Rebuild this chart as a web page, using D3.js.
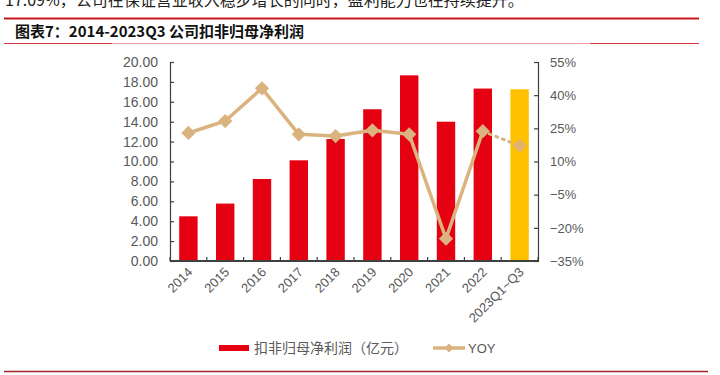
<!DOCTYPE html>
<html>
<head>
<meta charset="utf-8">
<script src="https://cdn.jsdelivr.net/npm/d3@7"></script>
<style>
  body { margin: 0; background: #fff; }
  svg { display: block; font-family: "Liberation Sans", Arial, sans-serif; }
  .cjk { font-family: "Noto Sans CJK SC", sans-serif; }
</style>
</head>
<body>
<div id="chart"></div>
<script>
// data
const categories = ["2014", "2015", "2016", "2017", "2018", "2019", "2020", "2021", "2022", "2023Q1~Q3"];
const profit = [4.49, 5.77, 8.24, 10.12, 12.26, 15.25, 18.66, 14.0, 17.33, 17.26]; // 亿元
const yoy = [22.9, 28.3, 43.1, 22.3, 21.5, 24.1, 22.3, -24.9, 23.7, 17.09]; // %
const leftTicks = [0, 2, 4, 6, 8, 10, 12, 14, 16, 18, 20];
const rightTicks = [-35, -20, -5, 10, 25, 40, 55];

const width = 720, height = 375;
const margin = { left: 170, right: 182, top: 62, bottom: 114 };
const innerW = width - margin.left - margin.right;
const innerH = height - margin.top - margin.bottom;

const barRed = "#e50012", barGold = "#ffc000", lineTan = "#dbb37e", textGray = "#595959";

const svg = d3.select("#chart").append("svg")
  .attr("width", width)
  .attr("height", height);

// header text and rules
svg.append("text").attr("class", "cjk")
  .attr("x", 5).attr("y", 6)
  .attr("font-size", 16).attr("fill", "#222")
  .text("17.09%，公司在保证营业收入稳步增长的同时，盈利能力也在持续提升。");

svg.append("line").attr("x1", 4).attr("x2", 699).attr("y1", 18.5).attr("y2", 18.5)
  .attr("stroke", "#c8161d").attr("stroke-width", 2);

svg.append("text").attr("class", "cjk")
  .attr("x", 15).attr("y", 37)
  .attr("font-size", 15).attr("font-weight", "bold").attr("fill", "#111")
  .text("图表7：2014-2023Q3 公司扣非归母净利润");

svg.append("line").attr("x1", 4).attr("x2", 699).attr("y1", 43.5).attr("y2", 43.5)
  .attr("stroke", "#eba3a8").attr("stroke-width", 1);
svg.append("line").attr("x1", 4).attr("x2", 112).attr("y1", 43.5).attr("y2", 43.5)
  .attr("stroke", "#d9363f").attr("stroke-width", 1);
svg.append("line").attr("x1", 590).attr("x2", 699).attr("y1", 43.5).attr("y2", 43.5)
  .attr("stroke", "#d9363f").attr("stroke-width", 1);

svg.append("line").attr("x1", 4).attr("x2", 708).attr("y1", 371.5).attr("y2", 371.5)
  .attr("stroke", "#a8222a").attr("stroke-width", 1.5);

const g = svg.append("g")
  .attr("transform", `translate(${margin.left}, ${margin.top})`);

// scales
const x = d3.scaleBand().domain(categories).range([0, innerW]).paddingInner(0.5).paddingOuter(0.25);
const yLeft = d3.scaleLinear().domain([0, 20]).range([innerH, 0]);
const yRight = d3.scaleLinear().domain([-35, 55]).range([innerH, 0]);

// bars
g.selectAll(".bar")
  .data(categories.map((c, i) => ({ c, v: profit[i], i })))
  .join("rect")
    .attr("class", "bar")
    .attr("x", d => x(d.c))
    .attr("y", d => yLeft(d.v))
    .attr("width", x.bandwidth())
    .attr("height", d => innerH - yLeft(d.v))
    .attr("fill", d => d.i === categories.length - 1 ? barGold : barRed);

// left axis
const leftAxis = g.append("g")
  .call(d3.axisLeft(yLeft).tickValues(leftTicks).tickSize(-4).tickPadding(12).tickFormat(d3.format(".2f")));
leftAxis.selectAll("text").attr("font-size", 14).attr("fill", textGray);

// right axis
const rightAxis = g.append("g")
  .attr("transform", `translate(${innerW}, 0)`)
  .call(d3.axisRight(yRight).tickValues(rightTicks).tickSize(-4).tickPadding(12).tickFormat(d => d3.format("d")(d) + "%"));
rightAxis.selectAll("text").attr("font-size", 13).attr("fill", textGray);

[leftAxis, rightAxis].forEach(a => {
  a.select(".domain").attr("stroke", "#404040").attr("stroke-width", 1.2);
  a.selectAll(".tick line").attr("stroke", "#404040").attr("stroke-width", 1.2);
});

// bottom axis with boundary ticks
const xb = g.append("g").attr("transform", `translate(0, ${innerH})`);
xb.append("line").attr("x1", 0).attr("x2", innerW).attr("y1", 0).attr("y2", 0)
  .attr("stroke", "#404040").attr("stroke-width", 2);
const step = x.step();
xb.selectAll(".bt")
  .data(d3.range(categories.length + 1))
  .join("line")
    .attr("class", "bt")
    .attr("x1", i => x(categories[0]) - x.bandwidth() / 2 + i * step)
    .attr("x2", i => x(categories[0]) - x.bandwidth() / 2 + i * step)
    .attr("y1", 0).attr("y2", -4)
    .attr("stroke", "#404040").attr("stroke-width", 1.2);
xb.selectAll(".xl")
  .data(categories)
  .join("text")
    .attr("class", "xl")
    .attr("transform", d => `translate(${x(d) + x.bandwidth() / 2 + 5}, 12) rotate(-45)`)
    .attr("text-anchor", "end")
    .attr("font-size", 13)
    .attr("fill", textGray)
    .text(d => d);

// YOY line
const pts = categories.map((c, i) => [x(c) + x.bandwidth() / 2, yRight(yoy[i])]);
const line = d3.line();
g.append("path")
  .attr("d", line(pts.slice(0, 9)))
  .attr("fill", "none").attr("stroke", lineTan).attr("stroke-width", 3.5)
  .attr("stroke-linejoin", "round");
g.append("path")
  .attr("d", line(pts.slice(8)))
  .attr("fill", "none").attr("stroke", lineTan).attr("stroke-width", 3)
  .attr("stroke-dasharray", "2 5").attr("stroke-linecap", "round");

const diamond = d3.symbol().type(d3.symbolDiamond2).size(130);
g.selectAll(".mk")
  .data(pts)
  .join("path")
    .attr("class", "mk")
    .attr("transform", d => `translate(${d[0]}, ${d[1]})`)
    .attr("d", diamond)
    .attr("fill", lineTan)
    .attr("opacity", (d, i) => i === pts.length - 1 ? 0.85 : 1);

// legend
const lg = svg.append("g");
lg.append("rect").attr("x", 219).attr("y", 345).attr("width", 30).attr("height", 6).attr("fill", barRed);
lg.append("text").attr("class", "cjk")
  .attr("x", 254).attr("y", 353).attr("font-size", 14).attr("fill", textGray)
  .text("扣非归母净利润（亿元）");
lg.append("line").attr("x1", 433).attr("x2", 465).attr("y1", 348).attr("y2", 348)
  .attr("stroke", lineTan).attr("stroke-width", 3.5);
lg.append("path").attr("transform", "translate(449, 348)")
  .attr("d", d3.symbol().type(d3.symbolDiamond2).size(50)).attr("fill", lineTan);
lg.append("text")
  .attr("x", 468).attr("y", 353).attr("font-size", 13).attr("fill", textGray)
  .text("YOY");
</script>
</body>
</html>
